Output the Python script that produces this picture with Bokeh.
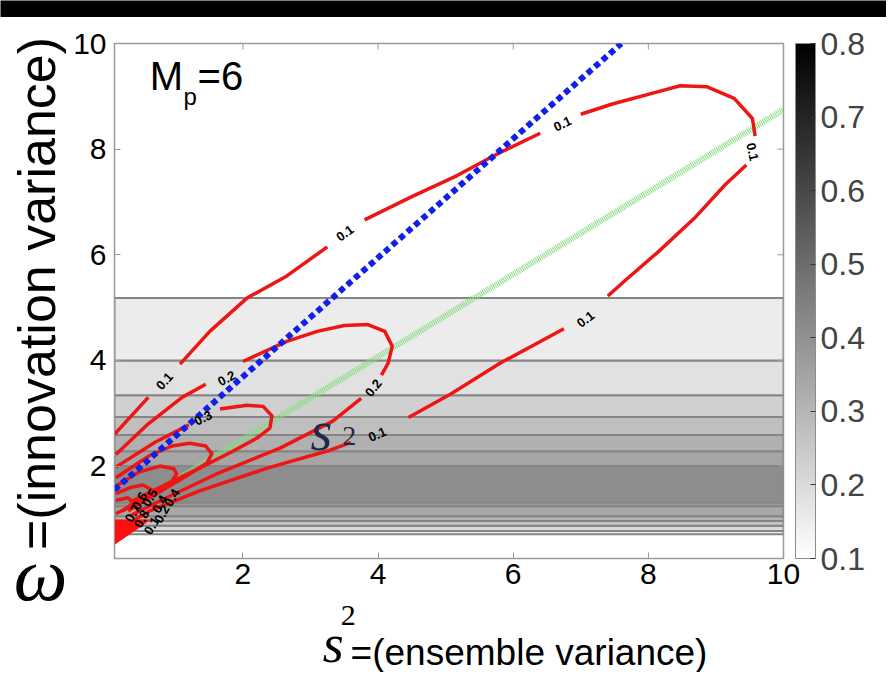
import math
from bokeh.plotting import figure
from bokeh.models import (ColumnDataSource, LinearColorMapper, ColorBar, FixedTicker)
from bokeh.layouts import column, row
from bokeh.core.properties import value
from bokeh.embed import file_html
from bokeh.resources import INLINE

nan = float("nan")

# ---------------- data ----------------
X_RANGE = (0.1, 10.0)
Y_RANGE = (0.25, 10.0)
X_TICKS = [2, 4, 6, 8, 10]
Y_TICKS = [2, 4, 6, 8, 10]
CBAR_TICKS = [0.1, 0.2, 0.3, 0.4, 0.5, 0.6, 0.7, 0.8]
CBAR_LOW, CBAR_HIGH = 0.1, 0.8

# horizontal shaded bands (function of omega only)
BAND_EDGES = [0.71, 0.77, 0.87, 0.96, 1.05, 1.24, 1.31, 2.00, 2.28, 2.59, 2.93, 3.34, 4.00, 5.18]
BAND_VALUES = [0.16, 0.20, 0.26, 0.30, 0.34, 0.377, 0.413, 0.347, 0.317, 0.275, 0.23, 0.184, 0.152]

# red contour lines (nan = gap where the inline label sits)
C01_X = [0.10, 0.60, nan, 1.07, 1.51, 2.06, 2.65, 3.25, nan, 3.80, 4.50, 5.17, 5.75, 6.40, nan,
         7.00, 7.48, 8.15, 8.47, 8.87, 9.27, 9.54, 9.58, nan, 9.45, 9.14, 8.68, 8.15, 7.69, 7.40, nan,
         6.75, 5.81, 5.07, 4.45, nan, 3.60, 3.29, 2.36, 1.36, 0.62, 0.15]
C01_Y = [2.60, 3.30, nan, 3.93, 4.55, 5.18, 5.60, 6.15, nan, 6.66, 7.10, 7.50, 7.90, 8.30, nan,
         8.66, 8.86, 9.09, 9.20, 9.18, 8.96, 8.58, 8.25, nan, 7.70, 7.33, 6.69, 6.06, 5.55, 5.22, nan,
         4.60, 3.95, 3.36, 2.92, nan, 2.45, 2.30, 1.96, 1.53, 1.15, 0.80]
C02_X = [0.12, 0.60, 1.10, 1.45, nan, 2.00, 2.65, 3.10, 3.50, 3.85, 4.10, 4.21, 4.15, 4.05, nan,
         3.75, 3.33, 2.55, 1.61, 0.87, 0.33]
C02_Y = [2.22, 2.80, 3.30, 3.55, nan, 3.98, 4.36, 4.55, 4.66, 4.68, 4.55, 4.27, 3.95, 3.72, nan,
         3.28, 2.85, 2.34, 1.85, 1.40, 1.06]
C03_X = [0.12, 0.70, 1.20, nan, 1.66, 2.06, 2.30, 2.43, 2.40, 2.21, 1.85, 1.36, 0.87, 0.37]
C03_Y = [1.98, 2.45, 2.78, nan, 3.08, 3.15, 3.13, 2.95, 2.72, 2.53, 2.28, 1.96, 1.66, 1.34]
C04_X = [0.12, 0.62, 0.95, 1.21, 1.45, 1.54, 1.47, 1.11, 0.62, 0.30]
C04_Y = [1.78, 2.20, 2.38, 2.43, 2.38, 2.23, 2.06, 1.77, 1.40, 1.15]
C05_X = [0.12, 0.45, 0.77, 0.98, 1.02, 0.95, 0.70, 0.35]
C05_Y = [1.62, 1.88, 2.00, 1.95, 1.85, 1.72, 1.50, 1.22]
C06_X = [0.12, 0.35, 0.52, 0.65, 0.58, 0.40, 0.22]
C06_Y = [1.48, 1.60, 1.64, 1.55, 1.45, 1.30, 1.15]
C07_X = [0.12, 0.30, 0.38, 0.25, 0.12]
C07_Y = [1.35, 1.40, 1.30, 1.18, 1.10]
WEDGE_X = [0.10, 0.10, 0.62, 0.40]
WEDGE_Y = [0.52, 0.98, 0.98, 0.78]

# inline contour labels
CLAB_TEXT = ["0.1", "0.1", "0.1", "0.1", "0.1", "0.1", "0.2", "0.2", "0.3",
             "0.6", "0.5", "0.4", "0.4", "0.7", "0.8", "0.1", "0.2"]
CLAB_X = [0.84, 3.51, 6.73, 9.54, 7.07, 3.99, 1.76, 3.93, 1.41,
          0.47, 0.62, 0.77, 0.95, 0.37, 0.50, 0.65, 0.80]
CLAB_Y = [3.61, 6.41, 8.48, 7.95, 4.78, 2.60, 3.66, 3.48, 2.91,
          1.34, 1.40, 1.28, 1.40, 1.11, 1.00, 0.87, 1.09]
CLAB_ANGLE = [48, 36, 25, -78, 37, 23, 28, 52, 27,
              60, 60, 60, 60, 60, 60, 60, 60]

# straight reference lines
BLUE_X = [0.10, 7.60]
BLUE_Y = [1.55, 10.0]
GREEN_X = [0.50, 10.0]
GREEN_Y = [1.34, 8.75]

SANS = "Liberation Sans"
SERIF = "Liberation Serif"
FRAME_GREY = "#9a9a9a"

# ---------------- main figure ----------------
p = figure(width=816, height=582, x_range=X_RANGE, y_range=Y_RANGE, title=None,
           output_backend="svg", toolbar_location=None,
           min_border_left=44, min_border_right=103, min_border_top=26, min_border_bottom=41)
p.background_fill_color = "white"
p.border_fill_color = "white"
p.outline_line_color = FRAME_GREY
p.outline_line_width = 1.5
p.xgrid.visible = False
p.ygrid.visible = False

p.xaxis.ticker = FixedTicker(ticks=X_TICKS)
p.yaxis.ticker = FixedTicker(ticks=Y_TICKS)
for ax in (p.xaxis[0], p.yaxis[0]):
    ax.axis_line_color = FRAME_GREY
    ax.major_tick_in = 6
    ax.major_tick_out = 0
    ax.major_tick_line_color = FRAME_GREY
    ax.minor_tick_line_color = None
    ax.major_label_text_font = SANS
    ax.major_label_text_font_size = "30px"
    ax.major_label_text_color = "black"
p.xaxis.major_label_standoff = 5
p.yaxis.major_label_standoff = 8

palette = ["#%02x%02x%02x" % (g, g, g) for g in range(255, -1, -1)]
mapper = LinearColorMapper(palette=palette, low=CBAR_LOW, high=CBAR_HIGH)

bands = ColumnDataSource(dict(bottom=BAND_EDGES[:-1], top=BAND_EDGES[1:], v=BAND_VALUES))
p.quad(left=X_RANGE[0], right=X_RANGE[1], bottom="bottom", top="top", source=bands,
       fill_color={"field": "v", "transform": mapper}, line_color="#858585", line_width=2)

# inward tick marks on the top and right edges of the box
p.scatter(x=X_TICKS[:-1], y=[Y_RANGE[1]] * (len(X_TICKS) - 1), marker="dash", angle=math.pi / 2,
          size=12, line_color=FRAME_GREY, line_width=1)
p.scatter(x=[X_RANGE[1]] * (len(Y_TICKS) - 1), y=Y_TICKS[:-1], marker="dash",
          size=12, line_color=FRAME_GREY, line_width=1)

# green line
p.line(GREEN_X, GREEN_Y, line_color="#86dc80", line_width=6, line_dash="1 1")

# red contours
for cx, cy in ((C01_X, C01_Y), (C02_X, C02_Y), (C03_X, C03_Y), (C04_X, C04_Y),
               (C05_X, C05_Y), (C06_X, C06_Y), (C07_X, C07_Y)):
    p.line(cx, cy, line_color="#ee1515", line_width=3.5, line_join="round")
p.patch(WEDGE_X, WEDGE_Y, fill_color="#ff1010", line_color="#ff1010")

# blue dotted line
p.line(BLUE_X, BLUE_Y, line_color="#1020e8", line_width=6, line_dash="6 4")

# contour labels
lab_src = ColumnDataSource(dict(x=CLAB_X, y=CLAB_Y, t=CLAB_TEXT,
                                a=[math.radians(d) for d in CLAB_ANGLE]))
p.text("x", "y", text="t", angle="a", source=lab_src, text_font=value(SANS),
       text_font_size="13px", text_font_style="bold", text_color="black",
       text_align="center", text_baseline="middle")

# s^2 annotation inside the plot
p.text(x=[3.00], y=[2.07], text=["s"], text_font=value(SERIF), text_font_style="italic",
       text_font_size="56px", text_color="#1f2a4a")
p.text(x=[3.47], y=[2.40], text=["2"], text_font=value(SERIF),
       text_font_size="28px", text_color="#1f2a4a")

# M_p = 6
p.text(x=[0.62], y=[8.96], text=["M"], text_font=value(SANS), text_font_size="40px")
p.text(x=[1.12], y=[8.74], text=["p"], text_font=value(SANS), text_font_size="24px")
p.text(x=[1.33], y=[8.96], text=["=6"], text_font=value(SANS), text_font_size="40px")

cb = ColorBar(color_mapper=mapper, ticker=FixedTicker(ticks=CBAR_TICKS), width=20, height=515,
              padding=0, margin=0, label_standoff=5, location=(12, 0),
              major_label_text_font=SANS, major_label_text_font_size="32px",
              major_tick_line_color="#333333", major_tick_in=5, major_tick_out=0,
              bar_line_color="#8c8c8c", border_line_color=None, background_fill_color=None)
p.add_layout(cb, "right")


def blank(w, h, fill="white"):
    f = figure(width=w, height=h, x_range=(0, w), y_range=(0, h), min_border=0, title=None,
               x_axis_location=None, y_axis_location=None, toolbar_location=None,
               output_backend="svg")
    f.outline_line_color = None
    f.xgrid.visible = False
    f.ygrid.visible = False
    f.background_fill_color = fill
    f.border_fill_color = fill
    return f


# black strip along the top
top_band = blank(886, 17, fill="black")

# left strip: y title and omega (coordinates: pixels from the strip's bottom-left)
left = blank(70, 654)
left.text(x=[36], y=[378], text=["=(innovation variance)"], angle=math.pi / 2,
          text_font=value(SANS), text_font_size="52px", text_align="center",
          text_baseline="middle")
left.text(x=[40], y=[98], text=["\u03c9"], text_font=value(SERIF), text_font_style="italic",
          text_font_size="76px", text_align="center", text_baseline="middle")

# bottom strip: x title
bottom = blank(816, 73)
bottom.text(x=[254], y=[29], text=["s"], text_font=value(SERIF), text_font_style="italic",
            text_font_size="54px", text_baseline="middle")
bottom.text(x=[276], y=[57], text=["2"], text_font=value(SERIF), text_font_size="30px",
            text_baseline="middle")
bottom.text(x=[288], y=[20], text=["=(ensemble variance)"], text_font=value(SANS),
            text_font_size="37px", text_baseline="middle")

layout = column(top_band, row(left, column(p, bottom, spacing=0), spacing=0), spacing=0)

open("out.html", "w").write(file_html(layout, INLINE))
